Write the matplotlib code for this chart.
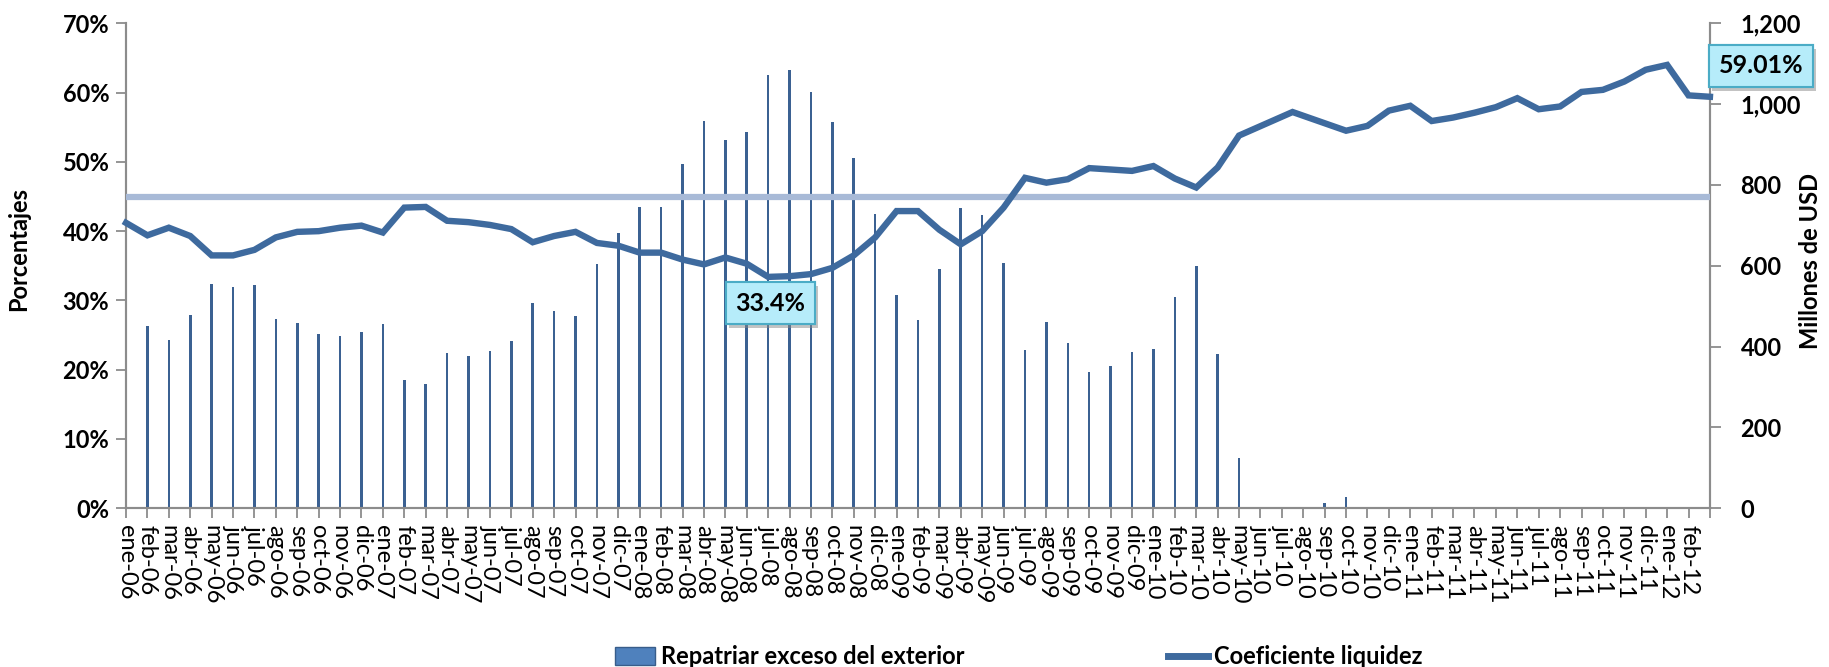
import matplotlib
matplotlib.use("Agg")
import matplotlib.pyplot as plt
import matplotlib.patheffects as pe
from matplotlib.patches import Patch
from matplotlib.lines import Line2D
from matplotlib.ticker import FuncFormatter

# ---------------- data ----------------
month_labels = [
    "ene-06", "feb-06", "mar-06", "abr-06", "may-06", "jun-06", "jul-06", "ago-06", "sep-06", "oct-06", "nov-06", "dic-06",
    "ene-07", "feb-07", "mar-07", "abr-07", "may-07", "jun-07", "jul-07", "ago-07", "sep-07", "oct-07", "nov-07", "dic-07",
    "ene-08", "feb-08", "mar-08", "abr-08", "may-08", "jun-08", "jul-08", "ago-08", "sep-08", "oct-08", "nov-08", "dic-08",
    "ene-09", "feb-09", "mar-09", "abr-09", "may-09", "jun-09", "jul-09", "ago-09", "sep-09", "oct-09", "nov-09", "dic-09",
    "ene-10", "feb-10", "mar-10", "abr-10", "may-10", "jun-10", "jul-10", "ago-10", "sep-10", "oct-10", "nov-10", "dic-10",
    "ene-11", "feb-11", "mar-11", "abr-11", "may-11", "jun-11", "jul-11", "ago-11", "sep-11", "oct-11", "nov-11", "dic-11",
    "ene-12", "feb-12", "",
]

# Coeficiente liquidez (%), position in months from ene-06
liq_pos = list(range(0, 53)) + [54.5] + list(range(57, 75))
liq_val = [
    41.2, 39.4, 40.5, 39.3, 36.5, 36.5, 37.3, 39.1, 39.9, 40.0, 40.5, 40.8,
    39.8, 43.4, 43.5, 41.5, 41.3, 40.9, 40.3, 38.4, 39.3, 39.9, 38.3, 37.9,
    36.9, 36.9, 35.9, 35.2, 36.2, 35.3, 33.4, 33.5, 33.8, 34.7, 36.5, 39.1,
    42.9, 42.9, 40.2, 38.1, 40.0, 43.4, 47.7, 47.0, 47.5, 49.1, 48.9, 48.7,
    49.4, 47.6, 46.3, 49.2, 53.8,
    57.2,
    54.5, 55.2, 57.4, 58.1, 55.9, 56.4, 57.1, 57.9, 59.2, 57.6, 58.0, 60.1,
    60.4, 61.6, 63.3, 64.0, 59.6, 59.4,
]

# Repatriar exceso del exterior (millones de USD)
rep_pos = list(range(0, 53)) + [53.8, 54.5, 56, 57, 59]
rep_val = [
    397, 450, 416, 478, 554, 548, 553, 468, 458, 431, 426, 437,
    457, 317, 307, 385, 376, 390, 415, 508, 488, 476, 605, 680,
    745, 745, 853, 958, 912, 931, 1071, 1084, 1029, 955, 867, 727,
    527, 465, 591, 743, 726, 608, 392, 460, 409, 338, 353, 386,
    393, 522, 600, 381, 125,
    3, 3, 12, 29, 2,
]

ref_level = 45.0          # horizontal reference (%)
min_label = "33.4%"
min_pos = 30
last_label = "59.01%"

# ---------------- style ----------------
FONT = "Lato"
LINE_C = "#3E6A9E"
BAR_C = "#3B6192"
REF_C = "#A8BAD7"
AX_C = "#8C8C8C"

fig = plt.figure(figsize=(18.29, 6.67), dpi=100)
ax = fig.add_axes([0.0689, 0.238, 0.866, 0.727])   # bars, USD axis (right)
ax2 = ax.twinx()                                   # line, % axis (left)

ax.bar(rep_pos, rep_val, width=0.12, color=BAR_C, edgecolor="none", zorder=2)
ax.set_ylim(0, 1200)
ax.set_xlim(0, 74)
ax.yaxis.tick_right()
ax.yaxis.set_label_position("right")
ax.set_yticks(range(0, 1201, 200))
ax.yaxis.set_major_formatter(FuncFormatter(lambda v, p: f"{int(v):,}"))

ax2.axhline(ref_level, color=REF_C, lw=4.5, zorder=3)
ax2.plot(liq_pos, liq_val, color=LINE_C, lw=4.6, solid_joinstyle="miter", zorder=4, clip_on=False)
ax2.set_ylim(0, 70)
ax2.yaxis.tick_left()
ax2.yaxis.set_label_position("left")
ax2.set_yticks(range(0, 71, 10))
ax2.yaxis.set_major_formatter(FuncFormatter(lambda v, p: f"{int(v)}%"))

ax.set_xticks(range(len(month_labels)))
ax.set_xticklabels(month_labels, rotation=270, fontsize=17, family=FONT, va="top", ha="center")
ax.tick_params(axis="x", length=7, width=1.3, color=AX_C, pad=5)
ax.tick_params(axis="y", length=8, width=1.3, color=AX_C, pad=14, labelsize=17)
ax2.tick_params(axis="y", length=7, width=1.3, color=AX_C, pad=5, labelsize=17)
for lab in ax.get_yticklabels() + ax2.get_yticklabels():
    lab.set_fontweight("bold")
    lab.set_family(FONT)

for a in (ax, ax2):
    a.spines["top"].set_visible(False)
    for s in ("left", "right", "bottom"):
        a.spines[s].set_color(AX_C)
        a.spines[s].set_linewidth(1.5)

fig.text(0.0104, 0.627, "Porcentajes", rotation=90, va="center", ha="center",
         fontsize=17, fontweight="bold", family=FONT)
fig.text(0.990, 0.609, "Millones de USD", rotation=90, va="center", ha="center",
         fontsize=17, fontweight="bold", family=FONT)

# annotations
box = dict(boxstyle="square,pad=0.38", facecolor="#B6ECFA", edgecolor="#4BACC6", linewidth=1.5)
t1 = ax2.text(min_pos + 0.1, 29.6, min_label, ha="center", va="center", fontsize=18,
              fontweight="bold", family=FONT, bbox=box, zorder=6)
t2 = ax2.text(76.4, 63.9, last_label, ha="center", va="center", fontsize=18,
              fontweight="bold", family=FONT, bbox=box, zorder=6, clip_on=False)
for t in (t1, t2):
    t.get_bbox_patch().set_path_effects([pe.withSimplePatchShadow(offset=(2, -3), shadow_rgbFace="#888888", alpha=0.5), pe.Normal()])

# legend
handles = [Patch(facecolor="#4F81BD", edgecolor="#385D8A", linewidth=1.0),
           Line2D([0], [0], color=LINE_C, lw=5)]
labels = ["Repatriar exceso del exterior", "Coeficiente liquidez"]
leg = fig.legend(handles, labels, ncol=2, loc="center", bbox_to_anchor=(0.557, 0.015),
                 frameon=False, handlelength=1.7, handleheight=0.8, handletextpad=0.25,
                 columnspacing=8.6, prop={"family": FONT, "weight": "bold", "size": 17})

fig.savefig("out.png", dpi=100)
